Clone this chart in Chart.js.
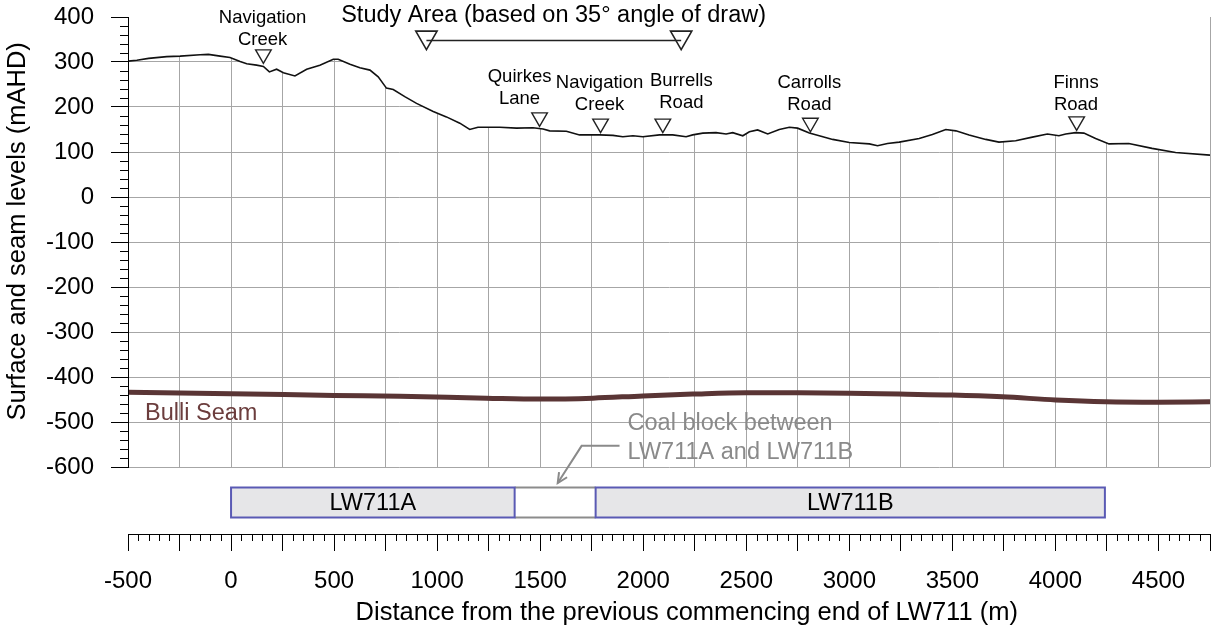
<!DOCTYPE html>
<html>
<head>
<meta charset="utf-8">
<script src="https://cdn.jsdelivr.net/npm/chart.js@4.4.1/dist/chart.umd.min.js"></script>
<style>
  html, body { margin: 0; padding: 0; background: #fff; }
  #wrap { width: 1212px; height: 632px; }
</style>
</head>
<body>
<div id="wrap"><canvas id="profile"></canvas></div>
<script>
// surface level along the LW711 centreline (chainage m, level mAHD)
const surfaceChainage = [-500, -457, -400, -312, -247, -150, -110, -53, -5, 44, 76, 124, 157, 186, 221, 254, 310, 367, 431, 496,
  520, 577, 625, 674, 714, 754, 787, 843, 900, 981, 1045, 1110, 1158, 1198, 1304, 1385, 1465, 1514, 1546, 1627,
  1691, 1788, 1853, 1901, 1950, 1998, 2079, 2143, 2208, 2240, 2289, 2353, 2402, 2434, 2483, 2515, 2555, 2604, 2660, 2709,
  2749, 2806, 2854, 2919, 3000, 3097, 3137, 3185, 3242, 3339, 3403, 3468, 3517, 3581, 3662, 3726, 3807, 3888, 3961, 4017,
  4050, 4098, 4138, 4195, 4260, 4356, 4469, 4583, 4750];
const surfaceLevel = [302, 304, 308, 312, 313, 316, 317, 313, 310, 301, 296, 293, 290, 278, 284, 276, 269, 284, 293, 306,
  306, 295, 287, 282, 267, 242, 239, 223, 208, 190, 178, 164, 150, 155, 155, 153, 154, 151, 147, 146,
  138, 138, 137, 134, 136, 134, 138, 138, 134, 138, 142, 143, 140, 143, 136, 145, 149, 140, 150, 155,
  153, 142, 136, 128, 121, 118, 114, 119, 122, 130, 139, 150, 147, 138, 128, 122, 125, 133, 140, 136,
  140, 143, 142, 130, 118, 119, 108, 99, 93];

// Bulli Seam floor
const seamChainage = [-500, 0, 500, 819, 1239, 1497, 1756, 1998, 2240, 2499, 2757, 3000, 3242, 3500, 3743, 4001, 4243, 4494, 4750];
const seamLevel = [-434, -437, -441, -443, -447, -449, -447, -442, -438, -435, -435, -436, -438, -440, -444, -451, -455, -456, -455];

// surface features
const featureNames = [["Navigation", "Creek"], ["Quirkes", "Lane"], ["Navigation", "Creek"], ["Burrells", "Road"], ["Carrolls", "Road"], ["Finns", "Road"]];
const featureChainage = [157, 1497, 1793, 2095, 2811, 4103];
const featureLevel = [317, 177, 163, 163, 165, 168];
const featureLabelChainage = [153, 1400, 1788, 2185, 2806, 4100];
const featureLabelLevel = [349, 218, 205, 209, 204, 205];

// study area (35 deg angle of draw)
const studyChainage = [948, 2184];
const studyLineLevel = [348, 348];
const studyMarkerLevel = [355, 355];

// longwall panels
const panelNames = ["LW711A", "LW711B"];
const panelStart = [0, 1769];
const panelEnd = [1376, 4240];

const xMin = -500, xMax = 4750;
const yMin = -600, yMax = 400;

const FONT = "'Liberation Sans', Arial, sans-serif";
const toXY = (xs, ys) => xs.map((v, i) => ({ x: v, y: ys[i] }));

const minorTicks = {
  id: 'minorTicks',
  afterDraw(chart) {
    const { ctx } = chart;
    const y = chart.scales.y, x2 = chart.scales.x2;
    ctx.save();
    ctx.strokeStyle = '#000';
    ctx.lineWidth = 1;
    ctx.beginPath();
    for (let v = yMin; v <= yMax; v += 20) {
      if (v % 100 === 0) continue;
      const py = Math.round(y.getPixelForValue(v)) + 0.5;
      ctx.moveTo(y.right - 8, py);
      ctx.lineTo(y.right, py);
    }
    for (let v = xMin; v <= xMax; v += 50) {
      if (v % 250 === 0) continue;
      const px = Math.round(x2.getPixelForValue(v)) + 0.5;
      ctx.moveTo(px, x2.top);
      ctx.lineTo(px, x2.top + 7);
    }
    ctx.stroke();
    ctx.restore();
  }
};

const annotations = {
  id: 'annotations',
  afterDraw(chart) {
    const { ctx, chartArea } = chart;
    const x = chart.scales.x, y = chart.scales.y;
    ctx.save();
    ctx.textAlign = 'center';
    ctx.textBaseline = 'middle';

    // feature names above the markers
    ctx.fillStyle = '#000';
    ctx.font = '18.5px ' + FONT;
    featureNames.forEach((lines, i) => {
      const px = x.getPixelForValue(featureLabelChainage[i]);
      const py = y.getPixelForValue(featureLabelLevel[i]);
      ctx.fillText(lines[1], px, py);
      ctx.fillText(lines[0], px, py - 22);
    });

    ctx.font = '23.5px ' + FONT;
    ctx.fillText('Study Area (based on 35\u00B0 angle of draw)', x.getPixelForValue(1565), y.getPixelForValue(403));

    ctx.textAlign = 'left';
    ctx.fillStyle = '#6b3d3d';
    ctx.fillText('Bulli Seam', x.getPixelForValue(-417), y.getPixelForValue(-482));

    // coal block note and leader
    ctx.fillStyle = '#8a8a8a';
    ctx.fillText('Coal block between', x.getPixelForValue(1924), y.getPixelForValue(-504));
    ctx.fillText('LW711A and LW711B', x.getPixelForValue(1924), y.getPixelForValue(-567));
    ctx.strokeStyle = '#8a8a8a';
    ctx.lineWidth = 2;
    const ax = x.getPixelForValue(1585), ay = chartArea.bottom + 16;
    const bx = x.getPixelForValue(1701), by = y.getPixelForValue(-553);
    ctx.beginPath();
    ctx.moveTo(x.getPixelForValue(1885), by);
    ctx.lineTo(bx, by);
    ctx.lineTo(ax, ay);
    ctx.stroke();
    const ang = Math.atan2(ay - by, ax - bx);
    ctx.beginPath();
    ctx.moveTo(ax - 11 * Math.cos(ang - 0.45), ay - 11 * Math.sin(ang - 0.45));
    ctx.lineTo(ax, ay);
    ctx.lineTo(ax - 11 * Math.cos(ang + 0.45), ay - 11 * Math.sin(ang + 0.45));
    ctx.stroke();

    // longwall panels below the section
    const top = chartArea.bottom + 20.5, h = 30;
    const g1 = x.getPixelForValue(panelEnd[0]), g2 = x.getPixelForValue(panelStart[1]);
    ctx.strokeStyle = '#8c8c8c';
    ctx.beginPath();
    ctx.moveTo(g1, top); ctx.lineTo(g2, top);
    ctx.moveTo(g1, top + h); ctx.lineTo(g2, top + h);
    ctx.stroke();
    ctx.textAlign = 'center';
    panelNames.forEach((name, i) => {
      const p1 = x.getPixelForValue(panelStart[i]), p2 = x.getPixelForValue(panelEnd[i]);
      ctx.fillStyle = '#e6e6e8';
      ctx.fillRect(p1, top, p2 - p1, h);
      ctx.strokeStyle = '#5a5ab4';
      ctx.lineWidth = 2;
      ctx.strokeRect(p1, top, p2 - p1, h);
      ctx.fillStyle = '#000';
      ctx.fillText(name, (p1 + p2) / 2, top + h / 2 + 1);
    });
    ctx.restore();
  }
};

new Chart(document.getElementById('profile'), {
  type: 'scatter',
  data: {
    datasets: [
      {
        label: 'Surface',
        data: toXY(surfaceChainage, surfaceLevel),
        showLine: true,
        borderColor: '#111',
        borderWidth: 1.6,
        pointRadius: 0,
        fill: 'end',
        backgroundColor: '#fff'
      },
      {
        label: 'Bulli Seam',
        data: toXY(seamChainage, seamLevel),
        showLine: true,
        borderColor: '#5a3535',
        borderWidth: 5,
        pointRadius: 0,
        cubicInterpolationMode: 'monotone'
      },
      {
        label: 'Features',
        data: toXY(featureChainage, featureLevel),
        pointStyle: 'triangle',
        rotation: 180,
        pointRadius: 9,
        pointBorderWidth: 1.4,
        pointBorderColor: '#222',
        pointBackgroundColor: 'rgba(255,255,255,0)'
      },
      {
        label: 'Study area',
        data: toXY(studyChainage, studyLineLevel),
        showLine: true,
        borderColor: '#222',
        borderWidth: 1.5,
        pointRadius: 0
      },
      {
        label: 'Study area ends',
        data: toXY(studyChainage, studyMarkerLevel),
        pointStyle: 'triangle',
        rotation: 180,
        pointRadius: 12.3,
        pointBorderWidth: 1.6,
        pointBorderColor: '#222',
        pointBackgroundColor: 'rgba(255,255,255,0)'
      }
    ]
  },
  options: {
    responsive: true,
    maintainAspectRatio: false,
    animation: false,
    layout: { autoPadding: false, padding: { top: 17, right: 2, left: 0, bottom: 0 } },
    plugins: {
      legend: { display: false },
      tooltip: { enabled: false },
      filler: { drawTime: 'beforeDatasetsDraw' }
    },
    scales: {
      x: {
        type: 'linear',
        position: 'bottom',
        weight: 0,
        min: xMin,
        max: xMax,
        ticks: { display: false, stepSize: 250 },
        grid: { color: '#a6a6a6', lineWidth: 1, drawTicks: false },
        border: { display: false },
        afterFit: (s) => { s.height = 67; s.paddingLeft = 0; s.paddingRight = 0; }
      },
      x2: {
        type: 'linear',
        position: 'bottom',
        weight: 1,
        min: xMin,
        max: xMax,
        ticks: {
          stepSize: 250,
          autoSkip: false,
          maxRotation: 0,
          padding: 16,
          color: '#000',
          font: { family: FONT, size: 24 },
          callback: (v) => (v % 500 === 0 ? String(v) : '')
        },
        grid: { drawOnChartArea: false, tickLength: 17, tickColor: '#000', color: '#000' },
        border: { display: true, color: '#000', width: 1 },
        title: {
          display: true,
          // leading spaces nudge the centred title to the right, as in the original
          text: '     Distance from the previous commencing end of LW711 (m)',
          color: '#000',
          font: { family: FONT, size: 25.5 },
          padding: { top: 0, bottom: 4 }
        },
        afterFit: (s) => { s.height = 98; s.paddingLeft = 0; s.paddingRight = 0; }
      },
      y: {
        type: 'linear',
        position: 'left',
        min: yMin,
        max: yMax,
        ticks: {
          stepSize: 100,
          padding: 17,
          color: '#000',
          font: { family: FONT, size: 24 }
        },
        grid: { color: '#a6a6a6', lineWidth: 1, tickLength: 17, tickColor: '#000' },
        border: { display: true, color: '#000', width: 1, z: 1 },
        title: {
          display: true,
          text: '   Surface and seam levels (mAHD)',
          color: '#000',
          font: { family: FONT, size: 25.5 },
          padding: { top: 3, bottom: 0 }
        },
        afterFit: (s) => { s.width = 128; s.paddingTop = 0; s.paddingBottom = 0; }
      }
    }
  },
  plugins: [minorTicks, annotations]
});
</script>
</body>
</html>
